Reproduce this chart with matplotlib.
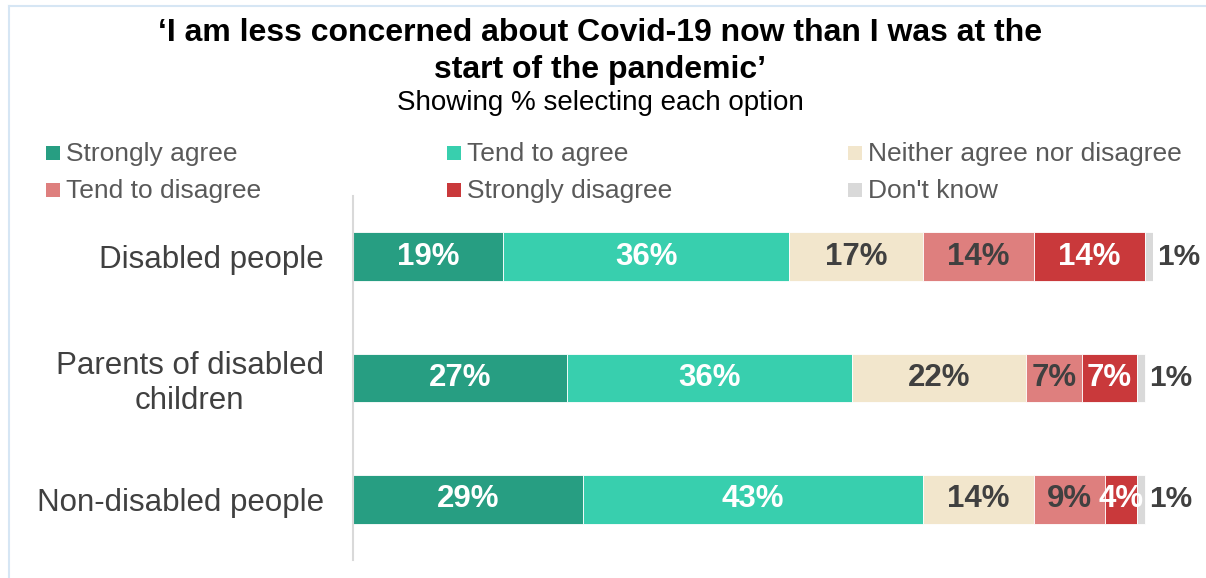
import matplotlib.pyplot as plt
from matplotlib.patches import Rectangle
from matplotlib.lines import Line2D

plt.rcParams['font.family'] = ['Liberation Sans', 'DejaVu Sans']

# survey groups and answer shares (%)
groups = ['Disabled people', 'Parents of disabled\nchildren', 'Non-disabled people']
options = ['Strongly agree', 'Tend to agree', 'Neither agree nor disagree',
           'Tend to disagree', 'Strongly disagree', "Don't know"]
strongly_agree = [19, 27, 29]
tend_agree = [36, 36, 43]
neither = [17, 22, 14]
tend_disagree = [14, 7, 9]
strongly_disagree = [14, 7, 4]
dont_know = [1, 1, 1]

series = [strongly_agree, tend_agree, neither, tend_disagree, strongly_disagree, dont_know]
colors = ['#279E82', '#38CFAE', '#F2E6CC', '#DE7F7E', '#C9393B', '#D9D9D9']
label_colors = ['white', 'white', '#404040', '#404040', 'white', None]

fig = plt.figure(figsize=(12.06, 5.78), dpi=100)
ax = fig.add_axes([353 / 1206, 1 - 560 / 578, 800 / 1206, 364 / 578])

y = list(range(len(groups)))
left = [0] * len(groups)
for vals, col, lcol in zip(series, colors, label_colors):
    bars = ax.barh(y, vals, left=left, height=0.4, color=col,
                   edgecolor='white', linewidth=0.6)
    if lcol is None:
        # tiny segment: value goes beside the bar end
        for b, v in zip(bars, vals):
            ax.text(b.get_x() + b.get_width() + 0.5, b.get_y() + b.get_height() / 2,
                    f'{v}%', ha='left', va='center', fontsize=21.5,
                    fontweight='bold', color='#404040')
    else:
        ax.bar_label(bars, labels=[f'{v}%' for v in vals], label_type='center',
                     fontsize=22.5, fontweight='bold', color=lcol)
    left = [l + v for l, v in zip(left, vals)]

ax.set_xlim(0, 101)
ax.set_ylim(2.5, -0.5)
ax.set_yticks(y)
ax.set_yticklabels(groups, fontsize=22.5, color='#404040', multialignment='center')
ax.tick_params(axis='y', length=0, pad=21)
ax.set_xticks([])
for s in ['top', 'right', 'bottom']:
    ax.spines[s].set_visible(False)
ax.spines['left'].set_color('#D9D9D9')
ax.spines['left'].set_linewidth(1.5)

# title block
fig.text(600 / 1206, 1 - 33 / 578,
         '‘I am less concerned about Covid-19 now than I was at the',
         ha='center', va='center', fontsize=23, fontweight='bold', color='black')
fig.text(600 / 1206, 1 - 70 / 578, 'start of the pandemic’',
         ha='center', va='center', fontsize=23, fontweight='bold', color='black')
fig.text(600 / 1206, 1 - 103 / 578, 'Showing % selecting each option',
         ha='center', va='center', fontsize=20, color='black')

# legend laid out in two rows of three
col_x = [46, 447, 848]
row_y = [154, 191]
for i, (name, col) in enumerate(zip(options, colors)):
    px = col_x[i % 3]
    py = row_y[i // 3]
    fig.add_artist(Rectangle((px / 1206, 1 - (py + 6) / 578), 14 / 1206, 14 / 578,
                             transform=fig.transFigure, facecolor=col, edgecolor='none'))
    fig.text((px + 20) / 1206, 1 - py / 578, name, ha='left', va='center',
             fontsize=19, color='#595959')

# thin frame along the top and left edges
fig.add_artist(Line2D([9 / 1206, 1], [1 - 6 / 578, 1 - 6 / 578],
                      transform=fig.transFigure, color='#D6E6F4', linewidth=1.5))
fig.add_artist(Line2D([9 / 1206, 9 / 1206], [0, 1 - 6 / 578],
                      transform=fig.transFigure, color='#D6E6F4', linewidth=1.5))

fig.savefig('out.png', dpi=100)
